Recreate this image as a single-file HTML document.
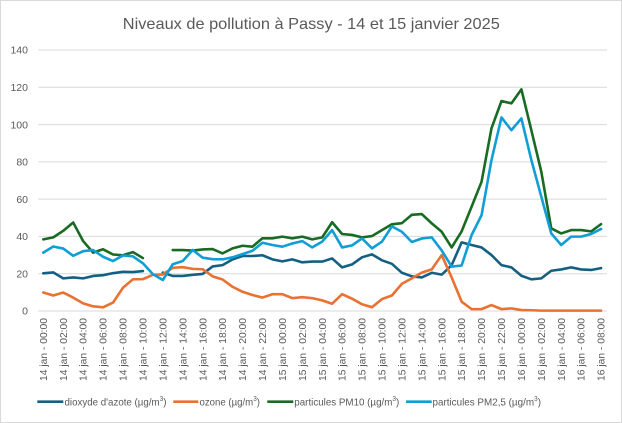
<!DOCTYPE html>
<html><head><meta charset="utf-8"><style>
html,body{margin:0;padding:0;background:#fff;}
svg{display:block;font-family:"Liberation Sans",sans-serif;}
</style></head><body>
<svg width="622" height="423" viewBox="0 0 622 423" xmlns="http://www.w3.org/2000/svg">
<rect x="0.5" y="0.5" width="621" height="422" fill="#fff" stroke="#d9d9d9" stroke-width="1"/>
<text x="311.3" y="29" text-anchor="middle" font-size="16" fill="#595959" textLength="377" lengthAdjust="spacingAndGlyphs">Niveaux de pollution à Passy - 14 et 15 janvier 2025</text>
<g stroke="#d9d9d9" stroke-width="1">
<line x1="38.3" x2="607" y1="50" y2="50"/>
<line x1="38.3" x2="607" y1="87.3" y2="87.3"/>
<line x1="38.3" x2="607" y1="124.6" y2="124.6"/>
<line x1="38.3" x2="607" y1="161.9" y2="161.9"/>
<line x1="38.3" x2="607" y1="199.1" y2="199.1"/>
<line x1="38.3" x2="607" y1="236.4" y2="236.4"/>
<line x1="38.3" x2="607" y1="273.7" y2="273.7"/>
<line x1="38.3" x2="607" y1="311" y2="311"/>
</g>
<g font-size="10.5" fill="#595959" text-anchor="end">
<text x="28" y="53.7">140</text>
<text x="28" y="91">120</text>
<text x="28" y="128.3">100</text>
<text x="28" y="165.6">80</text>
<text x="28" y="202.8">60</text>
<text x="28" y="240.1">40</text>
<text x="28" y="277.4">20</text>
<text x="28" y="314.7">0</text>
</g>
<g font-size="10.3" fill="#595959" text-anchor="end">
<text transform="translate(43.3,318) rotate(-90)" dy="0.35em">14 jan - 00:00</text>
<text transform="translate(63.22,318) rotate(-90)" dy="0.35em">14 jan - 02:00</text>
<text transform="translate(83.14,318) rotate(-90)" dy="0.35em">14 jan - 04:00</text>
<text transform="translate(103.06,318) rotate(-90)" dy="0.35em">14 jan - 06:00</text>
<text transform="translate(122.98,318) rotate(-90)" dy="0.35em">14 jan - 08:00</text>
<text transform="translate(142.9,318) rotate(-90)" dy="0.35em">14 jan - 10:00</text>
<text transform="translate(162.82,318) rotate(-90)" dy="0.35em">14 jan - 12:00</text>
<text transform="translate(182.74,318) rotate(-90)" dy="0.35em">14 jan - 14:00</text>
<text transform="translate(202.66,318) rotate(-90)" dy="0.35em">14 jan - 16:00</text>
<text transform="translate(222.58,318) rotate(-90)" dy="0.35em">14 jan - 18:00</text>
<text transform="translate(242.5,318) rotate(-90)" dy="0.35em">14 jan - 20:00</text>
<text transform="translate(262.42,318) rotate(-90)" dy="0.35em">14 jan - 22:00</text>
<text transform="translate(282.34,318) rotate(-90)" dy="0.35em">15 jan - 00:00</text>
<text transform="translate(302.26,318) rotate(-90)" dy="0.35em">15 jan - 02:00</text>
<text transform="translate(322.18,318) rotate(-90)" dy="0.35em">15 jan - 04:00</text>
<text transform="translate(342.1,318) rotate(-90)" dy="0.35em">15 jan - 06:00</text>
<text transform="translate(362.02,318) rotate(-90)" dy="0.35em">15 jan - 08:00</text>
<text transform="translate(381.94,318) rotate(-90)" dy="0.35em">15 jan - 10:00</text>
<text transform="translate(401.86,318) rotate(-90)" dy="0.35em">15 jan - 12:00</text>
<text transform="translate(421.78,318) rotate(-90)" dy="0.35em">15 jan - 14:00</text>
<text transform="translate(441.7,318) rotate(-90)" dy="0.35em">15 jan - 16:00</text>
<text transform="translate(461.62,318) rotate(-90)" dy="0.35em">15 jan - 18:00</text>
<text transform="translate(481.54,318) rotate(-90)" dy="0.35em">15 jan - 20:00</text>
<text transform="translate(501.46,318) rotate(-90)" dy="0.35em">15 jan - 22:00</text>
<text transform="translate(521.38,318) rotate(-90)" dy="0.35em">16 jan - 00:00</text>
<text transform="translate(541.3,318) rotate(-90)" dy="0.35em">16 jan - 02:00</text>
<text transform="translate(561.22,318) rotate(-90)" dy="0.35em">16 jan - 04:00</text>
<text transform="translate(581.14,318) rotate(-90)" dy="0.35em">16 jan - 06:00</text>
<text transform="translate(601.06,318) rotate(-90)" dy="0.35em">16 jan - 08:00</text>
</g>
<g transform="translate(43.3,311) scale(9.96,-1.8643)" fill="none" stroke-width="2.6" stroke-linejoin="round" stroke-linecap="round">
<polyline vector-effect="non-scaling-stroke" stroke="#156082" points="0,20.2 1,20.7 2,17.5 3,18 4,17.5 5,18.8 6,19.2 7,20.3 8,21 9,20.9 10,21.4"/>
<polyline vector-effect="non-scaling-stroke" stroke="#156082" points="12,20.6 13,18.8 14,18.8 15,19.4 16,19.9 17,23.9 18,24.6 19,27.7 20,29.5 21,29.5 22,29.9 23,27.7 24,26.6 25,27.7 26,26.1 27,26.5 28,26.5 29,28.2 30,23.4 31,25 32,28.8 33,30.4 34,27.2 35,25.3 36,20.5 37,18.6 38,18 39,20.5 40,19.5 41,24.6 42,36.8 43,35.4 44,34.1 45,30 46,24.6 47,23.4 48,18.9 49,17 50,17.5 51,21.6 52,22.3 53,23.4 54,22.3 55,22 56,23"/>
<polyline vector-effect="non-scaling-stroke" stroke="#E97132" points="0,9.9 1,8.3 2,9.9 3,7.2 4,4.1 5,2.5 6,2 7,4.5 8,12.5 9,17 10,17.1 11,19.4 12,19.6 13,23.2 14,23.5 15,22.6 16,22.4 17,18.6 18,16.9 19,13 20,10.3 21,8.6 22,7.2 23,9 24,9 25,6.9 26,7.4 27,6.9 28,5.7 29,3.9 30,9 31,6.6 32,3.6 33,2 34,6.4 35,8.3 36,14.6 37,17.5 38,20.6 39,22.3 40,30 41,18 42,5 43,1 44,1 45,3.2 46,1 47,1.4 48,0.5 49,0.4 50,0.2 51,0.2 52,0.2 53,0.2 54,0.2 55,0.2 56,0.2"/>
<polyline vector-effect="non-scaling-stroke" stroke="#196B24" points="0,38.4 1,39.5 2,43 3,47.5 4,37.5 5,31.3 6,33.1 7,30.3 8,29.9 9,31.6 10,28.4"/>
<polyline vector-effect="non-scaling-stroke" stroke="#196B24" points="13,32.7 14,32.7 15,32.4 16,33 17,33.2 18,30.9 19,33.6 20,35 21,34.5 22,39 23,39 24,39.9 25,39 26,39.9 27,38.4 28,39.5 29,47.6 30,41.3 31,40.8 32,39.5 33,40.2 34,43.4 35,46.5 36,47.1 37,51.6 38,52 39,47 40,42.5 41,34.1 42,42.7 43,55.9 44,69.3 45,98 46,112.6 47,111.4 48,118.9 49,97 50,74.7 51,44.3 52,41.6 53,43.4 54,43.4 55,42.7 56,46.6"/>
<polyline vector-effect="non-scaling-stroke" stroke="#0F9ED5" points="0,31.3 1,34.6 2,33.5 3,29.6 4,32.1 5,32.7 6,29.1 7,26.8 8,29.8 9,29.3 10,25.6 11,19.8 12,16.6 13,25.1 14,26.8 15,32.7 16,28.6 17,27.8 18,27.7 19,28.8 20,30.5 21,32.3 22,36.6 23,35.4 24,34.5 25,36.2 26,37.5 27,34.1 28,37.2 29,43.4 30,34.1 31,35.2 32,38.9 33,33.6 34,37.2 35,45.4 36,42.5 37,37 38,38.9 39,39.5 40,32.5 41,23.8 42,24.4 43,40.7 44,51.4 45,81 46,103.8 47,97 48,103.3 49,81 50,61.3 51,41.6 52,35.4 53,39.9 54,39.9 55,41.3 56,44"/>
</g>
<g stroke-width="2.6">
<line x1="37.3" x2="63.3" y1="401.7" y2="401.7" stroke="#156082"/>
<line x1="173.3" x2="198.3" y1="401.7" y2="401.7" stroke="#E97132"/>
<line x1="267.3" x2="293.3" y1="401.7" y2="401.7" stroke="#196B24"/>
<line x1="406" x2="431.7" y1="401.7" y2="401.7" stroke="#0F9ED5"/>
</g>
<g font-size="10.5" fill="#595959">
<text x="64.5" y="405.5" textLength="102" lengthAdjust="spacingAndGlyphs">dioxyde d'azote (µg/m<tspan font-size="7" dy="-4.5">3</tspan><tspan dy="4.5">)</tspan></text>
<text x="199.5" y="405.5" textLength="60.5" lengthAdjust="spacingAndGlyphs">ozone (µg/m<tspan font-size="7" dy="-4.5">3</tspan><tspan dy="4.5">)</tspan></text>
<text x="294.3" y="405.5" textLength="105" lengthAdjust="spacingAndGlyphs">particules PM10 (µg/m<tspan font-size="7" dy="-4.5">3</tspan><tspan dy="4.5">)</tspan></text>
<text x="432.5" y="405.5" textLength="108.5" lengthAdjust="spacingAndGlyphs">particules PM2,5 (µg/m<tspan font-size="7" dy="-4.5">3</tspan><tspan dy="4.5">)</tspan></text>
</g>
</svg>
</body></html>
